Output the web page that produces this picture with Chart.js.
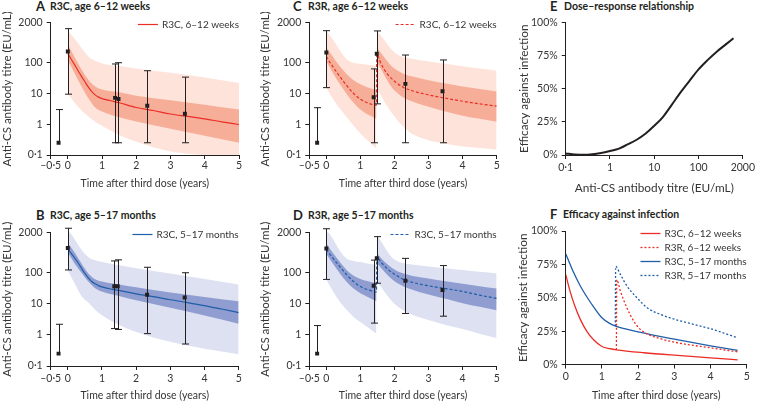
<!DOCTYPE html>
<html>
<head>
<meta charset="utf-8">
<title>Anti-CS antibody titres and efficacy against infection</title>
<script src="https://cdn.jsdelivr.net/npm/chart.js@4.4.1/dist/chart.umd.min.js"></script>
<style>
  body { margin: 0; width: 757px; height: 402px; overflow: hidden; background: #fff;
         font-family: Lato, 'Noto Sans', sans-serif; color: #231f20; position: relative; }
  canvas { position: absolute; }
  .lt { position: absolute; font: bold 13px/14px Lato, 'Noto Sans', sans-serif; }
  .tt { position: absolute; font: bold 10.5px/12px Lato, 'Noto Sans', sans-serif; white-space: nowrap; }
</style>
</head>
<body>
<div class="lt" style="left:36px;top:-1px">A</div><div class="tt" style="left:50px;top:0">R3C, age 6–12 weeks</div>
<div class="lt" style="left:293px;top:-1px">C</div><div class="tt" style="left:308px;top:0">R3R, age 6–12 weeks</div>
<div class="lt" style="left:550px;top:-1px">E</div><div class="tt" style="left:564px;top:0">Dose–response relationship</div>
<div class="lt" style="left:36px;top:208px">B</div><div class="tt" style="left:50px;top:209px">R3C, age 5–17 months</div>
<div class="lt" style="left:293px;top:208px">D</div><div class="tt" style="left:308px;top:209px">R3R, age 5–17 months</div>
<div class="lt" style="left:550px;top:207px">F</div><div class="tt" style="left:563px;top:208px">Efficacy against infection</div>

<canvas id="pa" width="252" height="180" style="left:0;top:12px"></canvas>
<canvas id="pc" width="252" height="180" style="left:258px;top:12px"></canvas>
<canvas id="pe" width="242" height="183" style="left:515px;top:12px"></canvas>
<canvas id="pb" width="252" height="182" style="left:0;top:220px"></canvas>
<canvas id="pd" width="252" height="182" style="left:258px;top:220px"></canvas>
<canvas id="pf" width="242" height="182" style="left:515px;top:220px"></canvas>

<script>
// ---- data ----
var timeTicks = [-0.5, 0, 1, 2, 3, 4, 5];
var titreTicks = [0.1, 1, 10, 100, 2000];

// A: R3C, 6-12 weeks
var aObsT = [-0.27, 0, 1.38, 1.48, 2.32, 3.42];
var aObsMid = [0.25, 230, 7.2, 6.6, 4.0, 2.2];
var aObsLow = [0.25, 9.5, 0.25, 0.25, 0.25, 0.25];
var aObsHigh = [3.0, 1280, 91, 100, 55, 34];
var aFitT = [0, 0.1, 0.2, 0.3, 0.4, 0.5, 0.6, 0.7, 0.8, 0.9, 1, 1.25, 1.5, 2, 2.5, 3, 3.5, 4, 4.5, 5];
var aFit = [200, 130, 85, 55, 36, 24, 16, 11.5, 9, 7.6, 6.8, 5.8, 5.0, 3.5, 2.8, 2.15, 1.8, 1.5, 1.2, 0.98];
var aBandT = [0, 0.2, 0.4, 0.6, 0.8, 1, 1.5, 2, 3, 4, 5];
var aInnerHi = [400, 150, 60, 28, 17, 13.5, 11, 8.5, 6, 4.3, 3.0];
var aInnerLo = [120, 45, 17, 7, 3.5, 2.6, 1.7, 1.22, 0.72, 0.42, 0.25];
var aOuterHi = [1100, 600, 300, 160, 115, 95, 78, 65, 47, 33, 22];
var aOuterLo = [10, 5, 2.8, 1.8, 1.2, 0.9, 0.45, 0.27, 0.13, 0.1, 0.09];

// B: R3C, 5-17 months
var bObsT = [-0.27, 0, 1.36, 1.46, 2.32, 3.42];
var bObsMid = [0.25, 630, 37, 37, 19.6, 16];
var bObsLow = [0.25, 123, 1.6, 1.5, 1.1, 0.51];
var bObsHigh = [2.2, 2700, 240, 260, 150, 100];
var bFitT = aFitT;
var bFit = [600, 420, 300, 210, 140, 95, 68, 52, 44, 38.5, 35, 30, 27, 21, 17, 13.5, 11, 8.8, 6.8, 5.2];
var bBandT = aBandT;
var bInnerHi = [900, 450, 200, 95, 62, 52, 42, 34, 23, 16.5, 12];
var bInnerLo = [450, 200, 100, 52, 32, 25, 18, 13, 7.5, 4.2, 2.3];
var bOuterHi = [2500, 1200, 550, 320, 250, 220, 175, 140, 95, 63, 42];
var bOuterLo = [120, 45, 18, 11, 6.5, 4.3, 2.1, 1.25, 0.6, 0.36, 0.24];

// C: R3R, 6-12 weeks (booster at ~1.5 years)
var cObsT = [-0.27, 0, 1.39, 1.48, 2.32, 3.41];
var cObsMid = [0.25, 215, 7.6, 195, 20.5, 11.9];
var cObsLow = [0.25, 15.5, 0.25, 4.6, 0.25, 0.25];
var cObsHigh = [3.45, 1100, 63, 1080, 178, 123];
var cFitT = [0, 0.1, 0.2, 0.3, 0.4, 0.5, 0.6, 0.8, 1, 1.2, 1.47, 1.48, 1.6, 1.7, 1.8, 2, 2.25, 2.5, 3, 3.5, 4, 4.5, 5];
var cFit = [160, 105, 72, 50, 35, 25, 18, 10, 6.5, 5, 4.2, 190, 95, 60, 42, 25, 16, 12.5, 9, 7, 5.6, 4.6, 3.9];
var cBandT1 = [0, 0.2, 0.4, 0.6, 0.8, 1, 1.2, 1.47];
var cInnerHi1 = [320, 150, 75, 42, 27, 20, 16, 13];
var cInnerLo1 = [110, 45, 20, 9.5, 5, 3, 2.1, 1.5];
var cOuterHi1 = [1100, 550, 250, 130, 100, 92, 86, 80];
var cOuterLo1 = [15, 6.5, 3.2, 1.7, 0.9, 0.5, 0.3, 0.16];
var cBandT2 = [1.48, 1.7, 1.9, 2.1, 2.3, 2.5, 3, 3.5, 4, 4.5, 5];
var cInnerHi2 = [320, 150, 80, 55, 42, 36, 27, 21, 17, 14, 11.5];
var cInnerLo2 = [110, 40, 17, 10, 7, 5.6, 3.7, 2.6, 1.9, 1.5, 1.2];
var cOuterHi2 = [1100, 550, 280, 180, 150, 135, 110, 92, 77, 65, 55];
var cOuterLo2 = [15, 5.5, 2.5, 1.3, 0.75, 0.5, 0.3, 0.23, 0.19, 0.17, 0.15];

// D: R3R, 5-17 months
var dObsT = [-0.27, 0, 1.39, 1.48, 2.32, 3.41];
var dObsMid = [0.25, 600, 38, 295, 55, 28];
var dObsLow = [0.25, 61, 2.4, 46, 4.9, 4.0];
var dObsHigh = [2.0, 2600, 255, 1450, 290, 170];
var dFitT = cFitT;
var dFit = [560, 400, 290, 210, 155, 115, 85, 52, 36, 29, 24, 320, 220, 170, 130, 90, 62, 50, 38, 31, 25, 19, 15];
var dBandT1 = cBandT1;
var dInnerHi1 = [870, 420, 220, 120, 80, 63, 54, 46];
var dInnerLo1 = [400, 190, 95, 50, 31, 22, 17, 12];
var dOuterHi1 = [2500, 1200, 500, 280, 240, 220, 200, 180];
var dOuterLo1 = [60, 25, 11.5, 6.3, 3.8, 2.6, 1.8, 1.1];
var dBandT2 = cBandT2;
var dInnerHi2 = [420, 230, 150, 110, 92, 80, 65, 53, 44, 37, 31];
var dInnerLo2 = [210, 110, 65, 45, 35, 29, 20, 14.5, 10.5, 8, 6.2];
var dOuterHi2 = [1700, 700, 330, 230, 200, 185, 160, 140, 122, 107, 95];
var dOuterLo2 = [55, 25, 13, 8, 5.8, 4.5, 3, 2.1, 1.55, 1.1, 0.8];

// E: dose-response
var eTitre = [0.1, 0.16, 0.25, 0.4, 0.63, 1, 1.6, 2.5, 4, 6.3, 10, 16, 25, 40, 63, 100, 160, 250, 400, 615];
var eEff = [1.2, 0.4, 0.1, 0.5, 1.5, 3, 4.8, 8, 11.5, 16, 22, 29, 38, 47.5, 56, 64.5, 71.5, 77.5, 83, 88];
var eTicks = [0.1, 1, 10, 100, 1000];

// F: efficacy over time (%)
var fR3cInfT = [0, 0.12, 0.25, 0.4, 0.58, 0.77, 1, 1.23, 1.4, 2.16, 3.08, 4, 4.75];
var fR3cInf = [67.5, 55, 44, 34, 25, 18.5, 13.5, 11.8, 11, 8.8, 6.8, 5, 3.5];
var fR3rInfT = [1.4, 1.41, 1.51, 1.69, 1.88, 2.06, 2.34, 2.62, 3.08, 4, 4.75];
var fR3rInf = [11, 63.5, 55, 42.5, 32.5, 26.3, 21.8, 19.3, 16.3, 12.5, 9.5];
var fR3cChT = [0, 0.2, 0.4, 0.6, 0.8, 1, 1.2, 1.4, 2, 3, 4, 4.75];
var fR3cCh = [83, 70, 59, 50, 42, 35, 31, 28.5, 24.5, 19, 14, 10.5];
var fR3rChT = [1.37, 1.38, 1.51, 1.69, 1.97, 2.25, 2.62, 3.08, 3.55, 4, 4.75];
var fR3rCh = [28.7, 73.5, 67.5, 58.8, 50, 42.5, 37.5, 33.3, 30, 26.8, 20];

// ---- drawing ----
var INK = '#231f20', TEXT = '#363435';
var RED = '#ec2d26', RED_IN = '#f6ae98', RED_OUT = '#fde3d9';
var BLUE = '#1f5ea8', BLUE_IN = '#8f9dd0', BLUE_OUT = '#dde1f1';
var FONT = 'Lato, "Noto Sans", sans-serif';

Chart.defaults.font.family = FONT;
Chart.defaults.font.size = 10.5;
Chart.defaults.color = TEXT;
Chart.defaults.animation = false;
Chart.defaults.plugins.legend.display = false;
Chart.defaults.plugins.tooltip.enabled = false;

function pts(xs, ys) {
  return xs.map(function (x, i) { return {x: x, y: ys[i]}; });
}

function fmt(v) {
  return String(v).replace('-', '–').replace('.', '·');
}

function fixTicks(list) {
  return function (s) { s.ticks = list.map(function (v) { return {value: v}; }); };
}

function band(t, hi, lo, color, order) {
  return [
    {data: pts(t, hi), fill: '+1', backgroundColor: color, borderWidth: 0, pointRadius: 0,
     cubicInterpolationMode: 'monotone', order: order},
    {data: pts(t, lo), fill: false, borderWidth: 0, pointRadius: 0,
     cubicInterpolationMode: 'monotone', order: order}
  ];
}

function insideLegend(dy, rowH) {
  return {
    id: 'insideLegend',
    afterDraw: function (chart) {
      var ctx = chart.ctx, area = chart.chartArea;
      var items = chart.data.datasets.filter(function (d) { return d.label; });
      ctx.save();
      ctx.font = '10px ' + FONT;
      var w = Math.max.apply(null, items.map(function (d) { return ctx.measureText(d.label).width; }));
      var x0 = area.right - w - 24;
      items.forEach(function (d, i) {
        var y = Math.round(area.top + dy + i * rowH) + 0.5;
        ctx.strokeStyle = d.borderColor;
        ctx.lineWidth = d.borderWidth;
        ctx.setLineDash(d.borderDash || []);
        ctx.beginPath(); ctx.moveTo(x0, y); ctx.lineTo(x0 + 20, y); ctx.stroke();
        ctx.fillStyle = TEXT;
        ctx.textBaseline = 'middle';
        ctx.fillText(d.label, x0 + 24, y);
      });
      ctx.restore();
    }
  };
}

function errorBars(t, mid, low, high) {
  return {
    id: 'errorBars',
    afterDatasetsDraw: function (chart) {
      var ctx = chart.ctx, x = chart.scales.x, y = chart.scales.y;
      ctx.save();
      ctx.strokeStyle = INK;
      ctx.lineWidth = 1;
      t.forEach(function (tv, i) {
        var px = Math.round(x.getPixelForValue(tv)) + 0.5;
        var top = y.getPixelForValue(high[i]);
        var bot = y.getPixelForValue(low[i]);
        ctx.beginPath();
        ctx.moveTo(px, top); ctx.lineTo(px, bot);
        ctx.moveTo(px - 3.5, top); ctx.lineTo(px + 3.5, top);
        if (low[i] < mid[i]) { ctx.moveTo(px - 3.5, bot); ctx.lineTo(px + 3.5, bot); }
        ctx.stroke();
      });
      ctx.restore();
    }
  };
}

function axes(box, x, y) {
  x.afterFit = function (s) { s.height = box.xH; };
  y.afterFit = function (s) { s.width = box.yW; };
  x.grid = {drawOnChartArea: false, tickLength: 4, color: INK};
  y.grid = {drawOnChartArea: false, tickLength: 4, color: INK};
  x.border = {color: INK};
  y.border = {color: INK};
  x.ticks = Object.assign({callback: fmt, maxRotation: 0, autoSkip: false, padding: box.xTickPad}, x.ticks || {});
  y.ticks = Object.assign({callback: fmt, autoSkip: false, padding: 4}, y.ticks || {});
  x.title.display = true;
  x.title.padding = {top: 0, bottom: box.xTitlePad};
  y.title.display = true;
  y.title.padding = {top: box.yTitlePad, bottom: 0};
  return {x: x, y: y};
}

function titreChart(id, box, p) {
  var dash = p.dashed ? [3, 2] : [];
  var sets = [];
  p.outer.forEach(function (b) { sets = sets.concat(band(b[0], b[1], b[2], p.outerColor, 4)); });
  p.inner.forEach(function (b) { sets = sets.concat(band(b[0], b[1], b[2], p.innerColor, 3)); });
  sets.push({label: p.label, data: pts(p.fitT, p.fit), borderColor: p.color, borderWidth: 1.2,
             borderDash: dash, pointRadius: 0, fill: false, cubicInterpolationMode: 'monotone', order: 2});
  sets.push({data: pts(p.obsT, p.obsMid), showLine: false, pointStyle: 'rect', pointRadius: 2.8,
             backgroundColor: INK, borderColor: INK, borderWidth: 0, order: 1});
  new Chart(document.getElementById(id), {
    type: 'line',
    data: {datasets: sets},
    options: {
      responsive: false,
      devicePixelRatio: 1,
      layout: {padding: {top: box.padTop, right: box.padRight, left: 0, bottom: 0}},
      scales: axes(box,
        {type: 'linear', min: -0.5, max: 5, afterBuildTicks: fixTicks(timeTicks),
         title: {text: 'Time after third dose (years)', font: {size: 10.5}}},
        {type: 'logarithmic', min: 0.1, max: 2000, afterBuildTicks: fixTicks(titreTicks),
         title: {text: 'Anti-CS antibody titre (EU/mL)', font: {size: 11.5}}})
    },
    plugins: [errorBars(p.obsT, p.obsMid, p.obsLow, p.obsHigh), insideLegend(box.legendDy, 14)]
  });
}

var boxA = {yW: 50.7, xH: 37, padTop: 10.7, padRight: 13, xTickPad: 0, xTitlePad: 2.4, yTitlePad: 0.6, legendDy: 1.6};
var boxC = {yW: 51.3, xH: 37, padTop: 10.7, padRight: 13.3, xTickPad: 0, xTitlePad: 2.4, yTitlePad: 0.2, legendDy: 1.6};
var boxB = {yW: 50.7, xH: 36, padTop: 12.3, padRight: 13.3, xTickPad: 2, xTitlePad: 0, yTitlePad: 0.4, legendDy: 2};
var boxD = {yW: 51.3, xH: 36, padTop: 12.3, padRight: 13.3, xTickPad: 2, xTitlePad: 0, yTitlePad: 0.2, legendDy: 2};
var boxE = {yW: 50.7, xH: 40, padTop: 10.3, padRight: 10.3, xTickPad: 2, xTitlePad: 0, yTitlePad: 2};
var boxF = {yW: 50.7, xH: 37.5, padTop: 11, padRight: 10.3, xTickPad: 2, xTitlePad: 0, yTitlePad: 1.5, legendDy: 2.3};

titreChart('pa', boxA, {
  label: 'R3C, 6–12 weeks', color: RED, innerColor: RED_IN, outerColor: RED_OUT, dashed: false,
  fitT: aFitT, fit: aFit, obsT: aObsT, obsMid: aObsMid, obsLow: aObsLow, obsHigh: aObsHigh,
  inner: [[aBandT, aInnerHi, aInnerLo]], outer: [[aBandT, aOuterHi, aOuterLo]]
});
titreChart('pb', boxB, {
  label: 'R3C, 5–17 months', color: BLUE, innerColor: BLUE_IN, outerColor: BLUE_OUT, dashed: false,
  fitT: bFitT, fit: bFit, obsT: bObsT, obsMid: bObsMid, obsLow: bObsLow, obsHigh: bObsHigh,
  inner: [[bBandT, bInnerHi, bInnerLo]], outer: [[bBandT, bOuterHi, bOuterLo]]
});
titreChart('pc', boxC, {
  label: 'R3C, 6–12 weeks', color: RED, innerColor: RED_IN, outerColor: RED_OUT, dashed: true,
  fitT: cFitT, fit: cFit, obsT: cObsT, obsMid: cObsMid, obsLow: cObsLow, obsHigh: cObsHigh,
  inner: [[cBandT1, cInnerHi1, cInnerLo1], [cBandT2, cInnerHi2, cInnerLo2]],
  outer: [[cBandT1, cOuterHi1, cOuterLo1], [cBandT2, cOuterHi2, cOuterLo2]]
});
titreChart('pd', boxD, {
  label: 'R3C, 5–17 months', color: BLUE, innerColor: BLUE_IN, outerColor: BLUE_OUT, dashed: true,
  fitT: dFitT, fit: dFit, obsT: dObsT, obsMid: dObsMid, obsLow: dObsLow, obsHigh: dObsHigh,
  inner: [[dBandT1, dInnerHi1, dInnerLo1], [dBandT2, dInnerHi2, dInnerLo2]],
  outer: [[dBandT1, dOuterHi1, dOuterLo1], [dBandT2, dOuterHi2, dOuterLo2]]
});

// E – the printed axis labels its 1000 position "2000"; kept as in the figure
new Chart(document.getElementById('pe'), {
  type: 'line',
  data: {datasets: [{data: pts(eTitre, eEff), borderColor: INK, borderWidth: 2, pointRadius: 0,
                     fill: false, cubicInterpolationMode: 'monotone'}]},
  options: {
    responsive: false,
    devicePixelRatio: 1,
    layout: {padding: {top: boxE.padTop, right: boxE.padRight, left: 0, bottom: 0}},
    scales: axes(boxE,
      {type: 'logarithmic', min: 0.1, max: 1000, afterBuildTicks: fixTicks(eTicks),
       ticks: {callback: function (v) { return v === 1000 ? '2000' : fmt(v); }},
       title: {text: 'Anti-CS antibody titre (EU/mL)', font: {size: 11.8}}},
      {type: 'linear', min: 0, max: 100, afterBuildTicks: fixTicks([0, 25, 50, 75, 100]),
       ticks: {callback: function (v) { return v + '%'; }},
       title: {text: 'Efficacy against infection', font: {size: 11.8}}})
  }
});

new Chart(document.getElementById('pf'), {
  type: 'line',
  data: {datasets: [
    {label: 'R3C, 6–12 weeks', data: pts(fR3cInfT, fR3cInf), borderColor: RED, borderWidth: 1.3,
     pointRadius: 0, fill: false, cubicInterpolationMode: 'monotone'},
    {label: 'R3R, 6–12 weeks', data: pts(fR3rInfT, fR3rInf), borderColor: RED, borderWidth: 1.3,
     borderDash: [2, 2], pointRadius: 0, fill: false, cubicInterpolationMode: 'monotone'},
    {label: 'R3C, 5–17 months', data: pts(fR3cChT, fR3cCh), borderColor: BLUE, borderWidth: 1.3,
     pointRadius: 0, fill: false, cubicInterpolationMode: 'monotone'},
    {label: 'R3R, 5–17 months', data: pts(fR3rChT, fR3rCh), borderColor: BLUE, borderWidth: 1.3,
     borderDash: [2, 2], pointRadius: 0, fill: false, cubicInterpolationMode: 'monotone'}
  ]},
  options: {
    responsive: false,
    devicePixelRatio: 1,
    layout: {padding: {top: boxF.padTop, right: boxF.padRight, left: 0, bottom: 0}},
    scales: axes(boxF,
      {type: 'linear', min: 0, max: 5, afterBuildTicks: fixTicks([0, 1, 2, 3, 4, 5]),
       title: {text: 'Time after third dose (years)', font: {size: 10.5}}},
      {type: 'linear', min: 0, max: 100, afterBuildTicks: fixTicks([0, 25, 50, 75, 100]),
       ticks: {callback: function (v) { return v + '%'; }},
       title: {text: 'Efficacy against infection', font: {size: 11.8}}})
  },
  plugins: [insideLegend(boxF.legendDy, 13.9)]
});
</script>
</body>
</html>
